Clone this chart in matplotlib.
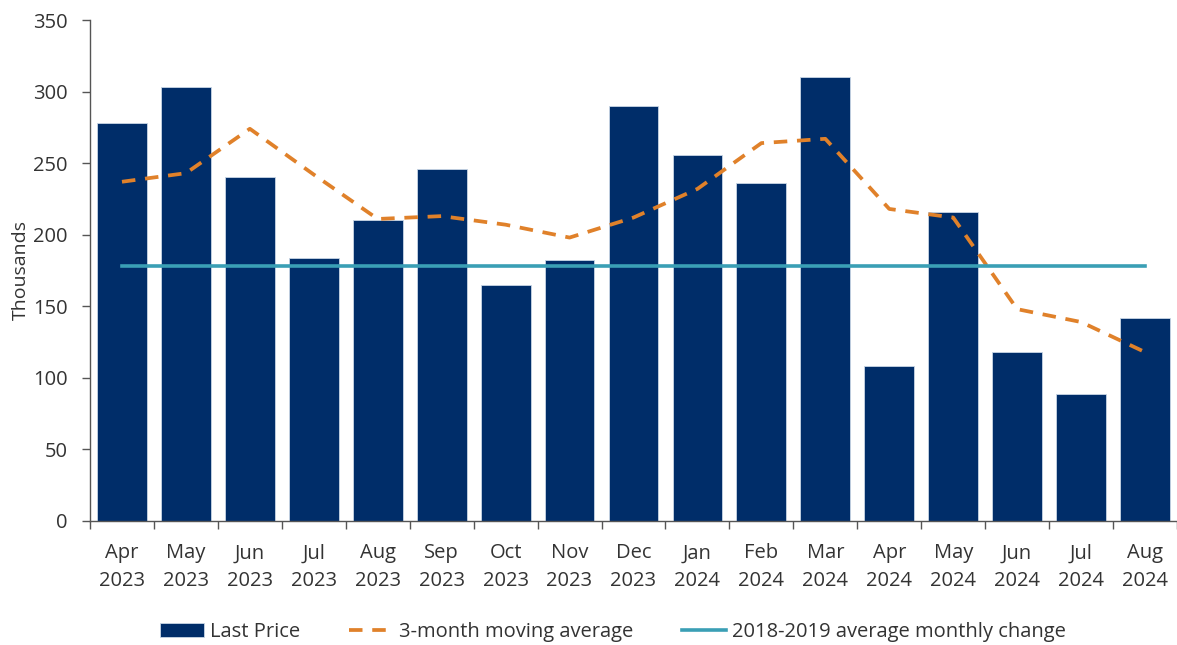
import matplotlib
matplotlib.use('Agg')
import matplotlib.pyplot as plt
import numpy as np
from matplotlib.ticker import FixedLocator

plt.rcParams['font.family'] = ['Open Sans', 'DejaVu Sans']

months = ['Apr\n2023', 'May\n2023', 'Jun\n2023', 'Jul\n2023', 'Aug\n2023', 'Sep\n2023',
          'Oct\n2023', 'Nov\n2023', 'Dec\n2023', 'Jan\n2024', 'Feb\n2024', 'Mar\n2024',
          'Apr\n2024', 'May\n2024', 'Jun\n2024', 'Jul\n2024', 'Aug\n2024']
last_price = [278, 303, 240, 184, 210, 246, 165, 182, 290, 256, 236, 310, 108, 216, 118, 89, 142]
moving_avg = [237, 243, 274, 242, 211, 213, 207, 198, 212, 232, 264, 267, 218, 212, 148, 139, 118]
avg_2018_2019 = 178

navy = '#002D69'
orange = '#E0812A'
teal = '#3A9FB5'
text_col = '#333333'

x = np.arange(len(months))

fig = plt.figure(figsize=(11.77, 6.45), dpi=100)
ax = fig.add_axes([90 / 1177, 1 - 521 / 645, 1087 / 1177, 501 / 645])

bars = ax.bar(x, last_price, width=0.78, color=navy, edgecolor='#c8d6e6', linewidth=0.6,
              label='Last Price', zorder=2)
ma_line, = ax.plot(x, moving_avg, color=orange, linewidth=2.7, dashes=(3.6, 2.6),
                   label='3-month moving average', zorder=3)
avg_line, = ax.plot(x, [avg_2018_2019] * len(x), color=teal, linewidth=2.6,
                    label='2018-2019 average monthly change', zorder=3)

ax.set_xlim(-0.5, len(x) - 0.5)
ax.set_ylim(0, 350)
ax.set_yticks(range(0, 351, 50))

# labels centred on bars, tick marks on bar boundaries
ax.set_xticks(x)
ax.set_xticklabels(months, linespacing=1.5)
ax.xaxis.set_minor_locator(FixedLocator(np.arange(-0.5, len(x), 1.0)))
ax.tick_params(axis='x', which='major', length=0, pad=16, labelsize=14.5, labelcolor=text_col)
ax.tick_params(axis='x', which='minor', length=6, width=1, color='#555555', direction='out')
ax.tick_params(axis='y', length=6, width=1, color='#555555', pad=10, labelsize=14.5,
               labelcolor=text_col)

for side in ['top', 'right']:
    ax.spines[side].set_visible(False)
for side in ['left', 'bottom']:
    ax.spines[side].set_color('#555555')
    ax.spines[side].set_linewidth(1)

ax.set_ylabel('Thousands', fontsize=14, color=text_col, labelpad=2)

ax.legend(handles=[bars, ma_line, avg_line], loc='upper center', bbox_to_anchor=(0.481, -0.165),
          ncol=3, frameon=False, fontsize=14.5, handlelength=2.2, columnspacing=2.4,
          handletextpad=0.3, labelcolor=text_col)

fig.savefig('out.png', dpi=100)
